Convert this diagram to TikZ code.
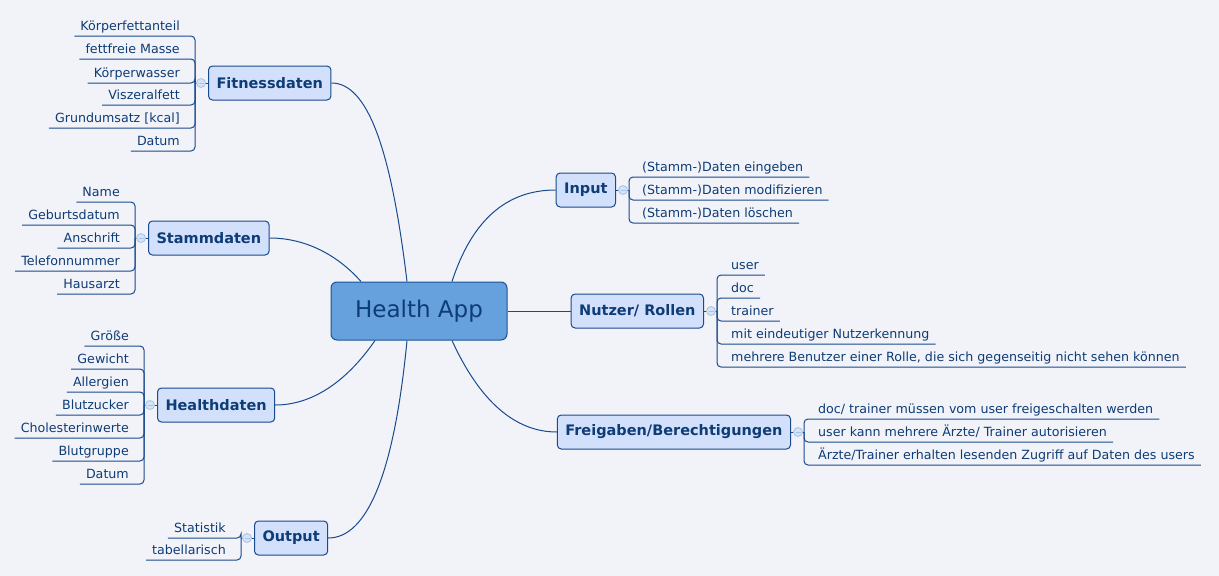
\documentclass[tikz,border=0pt]{standalone}
\usepackage{fontspec}
\setmainfont{DejaVu Sans}
\definecolor{bg}{RGB}{242,243,249}
\definecolor{ln}{RGB}{24,74,140}
\definecolor{tx}{RGB}{14,60,118}
\definecolor{tfill}{RGB}{210,224,251}
\definecolor{hfill}{RGB}{102,160,221}
\definecolor{hdraw}{RGB}{28,84,150}
\definecolor{cfill}{RGB}{214,226,246}
\definecolor{cdraw}{RGB}{168,194,232}
\tikzset{
  line/.style={draw=ln, line width=1pt},
  branch/.style={line, rounded corners=4pt},
  leaf/.style={text=tx, font=\fontsize{12.65}{14}\selectfont, inner xsep=6pt, inner ysep=5.5pt, text height=9pt, text depth=0pt},
  topic/.style={draw=ln, line width=1pt, fill=tfill, rounded corners=4pt, text=tx, font=\fontsize{14.5}{17}\selectfont\bfseries, inner xsep=8pt, inner ysep=0pt, minimum height=34pt},
  hub/.style={draw=hdraw, line width=1pt, fill=hfill, rounded corners=6pt, text=tx, font=\fontsize{23}{27}\selectfont, minimum width=176pt, minimum height=58pt},
  collapse/.style={circle, draw=cdraw, fill=cfill, line width=0.8pt, minimum size=9pt, inner sep=0pt,
    path picture={\draw[cdraw, line width=0.8pt] ([xshift=-2.5pt]path picture bounding box.center) -- ([xshift=2.5pt]path picture bounding box.center);}},
}
\begin{document}
\begin{tikzpicture}[x=1pt, y=-1pt]
\useasboundingbox[fill=bg] (0,0) rectangle (1219,576);

% central node
\node[hub] (hub) at (419,311) {Health App};

% main topics
\node[topic, anchor=west] (fit) at (208,83) {Fitnessdaten};
\node[topic, anchor=west] (st) at (148,238) {Stammdaten};
\node[topic, anchor=west] (hd) at (157,405) {Healthdaten};
\node[topic, anchor=west] (out) at (254,538) {Output};
\node[topic, anchor=east] (in) at (616,190) {Input};
\node[topic, anchor=east] (nr) at (704,311) {Nutzer/ Rollen};
\node[topic, anchor=east] (fr) at (791,432) {Freigaben/Berechtigungen};

% connectors hub - topics
\draw[line] (fit.east) .. controls +(36,0) and +(-16,-133) .. ([xshift=-12pt]hub.north);
\draw[line] (st.east) .. controls +(32.7,0) and +(-26,-29.3) .. ([xshift=-58pt]hub.north);
\draw[line] (in.west) .. controls +(-49.3,0) and +(20,-61.3) .. ([xshift=33pt]hub.north);
\draw[line] (hub.east) -- (nr.west);
\draw[line] (hd.east) .. controls +(35.3,0) and +(-30,43.3) .. ([xshift=-44pt]hub.south);
\draw[line] (out.east) .. controls +(39.3,0) and +(-12.7,132) .. ([xshift=-12pt]hub.south);
\draw[line] (fr.west) .. controls +(-41.3,0) and +(28,61.3) .. ([xshift=33pt]hub.south);

% junctions
\coordinate (fitj) at ([xshift=-13pt]fit.west);
\coordinate (stj) at ([xshift=-13pt]st.west);
\coordinate (hdj) at ([xshift=-13pt]hd.west);
\coordinate (outj) at ([xshift=-13pt]out.west);
\coordinate (inj) at ([xshift=13pt]in.east);
\coordinate (nrj) at ([xshift=13pt]nr.east);
\coordinate (frj) at ([xshift=13pt]fr.east);
\draw[line] (fit.west) -- (fitj);
\draw[line] (st.west) -- (stj);
\draw[line] (hd.west) -- (hdj);
\draw[line] (out.west) -- (outj);
\draw[line] (in.east) -- (inj);
\draw[line] (nr.east) -- (nrj);
\draw[line] (fr.east) -- (frj);

% Fitnessdaten leaves
\node[leaf, anchor=south east] (f1) at (186,36) {Körperfettanteil};
\node[leaf, anchor=south east] (f2) at (186,59) {fettfreie Masse};
\node[leaf, anchor=south east] (f3) at (186,83) {Körperwasser};
\node[leaf, anchor=south east] (f4) at (186,105) {Viszeralfett};
\node[leaf, anchor=south east] (f5) at (186,128) {Grundumsatz [kcal]};
\node[leaf, anchor=south east] (f6) at (186,151) {Datum};
\foreach \n in {f1,f2,f3,f4,f5,f6} \draw[branch] (fitj) |- (\n.south west);

% Stammdaten leaves
\node[leaf, anchor=south east] (s1) at (126,202) {Name};
\node[leaf, anchor=south east] (s2) at (126,225) {Geburtsdatum};
\node[leaf, anchor=south east] (s3) at (126,248) {Anschrift};
\node[leaf, anchor=south east] (s4) at (126,271) {Telefonnummer};
\node[leaf, anchor=south east] (s5) at (126,294) {Hausarzt};
\foreach \n in {s1,s2,s3,s4,s5} \draw[branch] (stj) |- (\n.south west);

% Healthdaten leaves
\node[leaf, anchor=south east] (h1) at (135,346) {Größe};
\node[leaf, anchor=south east] (h2) at (135,369) {Gewicht};
\node[leaf, anchor=south east] (h3) at (135,392) {Allergien};
\node[leaf, anchor=south east] (h4) at (135,415) {Blutzucker};
\node[leaf, anchor=south east] (h5) at (135,438) {Cholesterinwerte};
\node[leaf, anchor=south east] (h6) at (135,461) {Blutgruppe};
\node[leaf, anchor=south east] (h7) at (135,484) {Datum};
\foreach \n in {h1,h2,h3,h4,h5,h6,h7} \draw[branch] (hdj) |- (\n.south west);

% Output leaves
\node[leaf, anchor=south east] (o1) at (232,538) {Statistik};
\node[leaf, anchor=south east] (o2) at (232,560) {tabellarisch};
\foreach \n in {o1,o2} \draw[branch] (outj) |- (\n.south west);

% Input leaves
\node[leaf, anchor=south west] (i1) at (636,177) {(Stamm-)Daten eingeben};
\node[leaf, anchor=south west] (i2) at (636,200) {(Stamm-)Daten modifizieren};
\node[leaf, anchor=south west] (i3) at (636,223) {(Stamm-)Daten löschen};
\foreach \n in {i1,i2,i3} \draw[branch] (inj) |- (\n.south east);

% Nutzer/Rollen leaves
\node[leaf, anchor=south west] (n1) at (725,275) {user};
\node[leaf, anchor=south west] (n2) at (725,298) {doc};
\node[leaf, anchor=south west] (n3) at (725,321) {trainer};
\node[leaf, anchor=south west] (n4) at (725,344) {mit eindeutiger Nutzerkennung};
\node[leaf, anchor=south west] (n5) at (725,367) {mehrere Benutzer einer Rolle, die sich gegenseitig nicht sehen können};
\foreach \n in {n1,n2,n3,n4,n5} \draw[branch] (nrj) |- (\n.south east);

% Freigaben leaves
\node[leaf, anchor=south west] (r1) at (812,419) {doc/ trainer müssen vom user freigeschalten werden};
\node[leaf, anchor=south west] (r2) at (812,442) {user kann mehrere Ärzte/ Trainer autorisieren};
\node[leaf, anchor=south west] (r3) at (812,465) {Ärzte/Trainer erhalten lesenden Zugriff auf Daten des users};
\foreach \n in {r1,r2,r3} \draw[branch] (frj) |- (\n.south east);

% collapse markers
\node[collapse] (fitc) at ([xshift=-7pt]fit.west) {};
\node[collapse] (stc) at ([xshift=-7pt]st.west) {};
\node[collapse] (hdc) at ([xshift=-7pt]hd.west) {};
\node[collapse] (outc) at ([xshift=-7pt]out.west) {};
\node[collapse] (inc) at ([xshift=7pt]in.east) {};
\node[collapse] (nrc) at ([xshift=7pt]nr.east) {};
\node[collapse] (frc) at ([xshift=7pt]fr.east) {};
\end{tikzpicture}
\end{document}
